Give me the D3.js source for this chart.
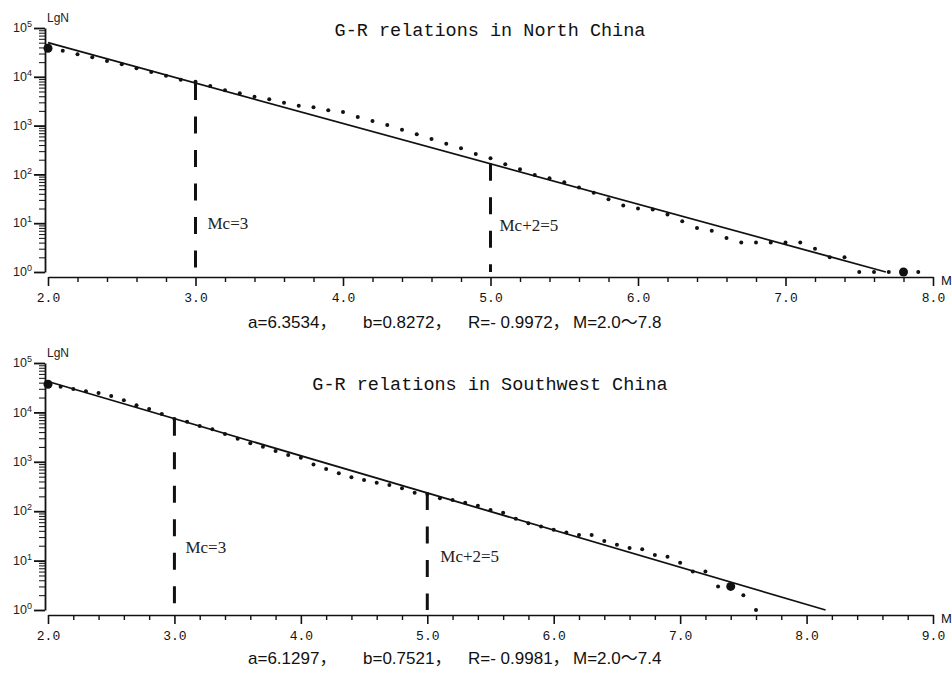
<!DOCTYPE html>
<html>
<head>
<meta charset="utf-8">
<script src="https://cdn.jsdelivr.net/npm/d3@7"></script>
<style>
body { margin: 0; background: #fff; }
svg { display: block; }
</style>
</head>
<body>
<div id="chart"></div>
<script>
// magnitude bins (M) and cumulative counts N(>=M)
const magsNorth = [2.0,2.1,2.2,2.3,2.4,2.5,2.6,2.7,2.8,2.9,3.0,3.1,3.2,3.3,3.4,3.5,3.6,3.7,3.8,3.9,
  4.0,4.1,4.2,4.3,4.4,4.5,4.6,4.7,4.8,4.9,5.0,5.1,5.2,5.3,5.4,5.5,5.6,5.7,5.8,5.9,
  6.0,6.1,6.2,6.3,6.4,6.5,6.6,6.7,6.8,6.9,7.0,7.1,7.2,7.3,7.4,7.5,7.6,7.7,7.8,7.9];
const countsNorth = [38400,34300,28900,25100,21100,18000,14900,12500,10500,8700,
  7900,6500,5300,4600,3900,3460,2940,2560,2370,2060,
  1900,1500,1240,1030,824,664,531,426,343,262,
  214,161,127,97,83,69,54,42,31,23,
  20,19,15,11,8,7,5,4,4,4,
  4,4,3,2,2,1,1,1,1,1];

const magsSouthwest = [2.0,2.1,2.2,2.3,2.4,2.5,2.6,2.7,2.8,2.9,3.0,3.1,3.2,3.3,3.4,3.5,3.6,3.7,3.8,3.9,
  4.0,4.1,4.2,4.3,4.4,4.5,4.6,4.7,4.8,4.9,5.0,5.1,5.2,5.3,5.4,5.5,5.6,5.7,5.8,5.9,
  6.0,6.1,6.2,6.3,6.4,6.5,6.6,6.7,6.8,6.9,7.0,7.1,7.2,7.3,7.4,7.5,7.6];
const countsSouthwest = [37100,33100,29800,26700,24700,21500,17600,13900,11700,9290,
  7350,6480,5310,4550,3650,2940,2370,2020,1660,1370,
  1210,881,715,585,486,428,378,339,291,237,
  223,182,169,149,129,106,93,70,57,49,
  42,37,33,33,25,21,18,17,13,12,
  9,6,6,3,3,2,1];

const panelTitles = ["G-R relations in North China", "G-R relations in Southwest China"];
const fitA = [6.3534, 6.1297];
const fitB = [0.8272, 0.7521];
const fitR = ["- 0.9972", "- 0.9981"];
const fitRange = [[2.0, 7.8], [2.0, 7.4]];
const mcValues = [3, 5];
const mcLabels = ["Mc=3", "Mc+2=5"];
const xDomains = [[2, 8], [2, 9]];
const xMajorTicks = [[2,3,4,5,6,7,8], [2,3,4,5,6,7,8,9]];
const yDecades = [1, 10, 100, 1000, 10000, 100000];

const width = 952, height = 673;

const svg = d3.select("#chart").append("svg")
    .attr("width", width)
    .attr("height", height)
    .attr("viewBox", [0, 0, width, height]);

// layout of each panel (pixels)
const panels = [
  { mags: magsNorth, counts: countsNorth, yTop: 28, yBottom: 272, axisY: 277, titleY: 36,
    captionY: 328, labelDy: [[12, 229], [9, 231]] },
  { mags: magsSouthwest, counts: countsSouthwest, yTop: 363, yBottom: 610, axisY: 615, titleY: 390,
    captionY: 664, labelDy: [[11, 553], [13, 562]] }
];
const captionX = [248, 363, 468, 573];

panels.forEach((p, i) => drawPanel(p, i));

function drawPanel(p, i) {
  const g = svg.append("g");
  const x = d3.scaleLinear().domain(xDomains[i]).range([48, 933]);
  const y = d3.scaleLog().domain([1, 1e5]).range([p.yBottom, p.yTop]);
  const axisX = 45;

  // x axis: minor ticks every 0.2, major every 1
  const minorX = d3.range(xDomains[i][0], xDomains[i][1] + 0.001, 0.2)
      .filter(v => Math.abs(v - Math.round(v)) > 0.01);
  g.append("g")
      .attr("transform", `translate(0,${p.axisY})`)
      .call(d3.axisBottom(x).tickValues(minorX).tickSize(5).tickSizeOuter(0).tickFormat(""))
      .call(s => s.select(".domain").remove())
      .call(s => s.selectAll("line").attr("stroke", "#111").attr("stroke-width", 1.4));
  g.append("g")
      .attr("transform", `translate(0,${p.axisY})`)
      .call(d3.axisBottom(x).tickValues(xMajorTicks[i]).tickSize(9).tickSizeOuter(0)
        .tickPadding(7).tickFormat(d3.format(".1f")))
      .call(s => s.selectAll("text")
        .attr("font-family", "'Liberation Mono', monospace")
        .attr("font-size", 13)
        .attr("fill", "#111"))
      .call(s => s.selectAll("line,path").attr("stroke", "#111").attr("stroke-width", 1.6));

  g.append("text")
      .attr("x", 941)
      .attr("y", p.axisY + 8)
      .attr("font-family", "'Liberation Sans', Arial, sans-serif")
      .attr("font-size", 13)
      .attr("fill", "#111")
      .text("M");

  // y axis: log scale with minor ticks
  const minorY = [];
  yDecades.slice(0, -1).forEach(d => d3.range(2, 10).forEach(k => minorY.push(d * k)));
  g.append("g")
      .attr("transform", `translate(${axisX},0)`)
      .call(d3.axisLeft(y).tickValues(minorY).tickSize(6).tickSizeOuter(0).tickFormat(""))
      .call(s => s.select(".domain").remove())
      .call(s => s.selectAll("line").attr("stroke", "#222").attr("stroke-width", 1.1));
  const yAxis = g.append("g")
      .attr("transform", `translate(${axisX},0)`)
      .call(d3.axisLeft(y).tickValues(yDecades).tickSize(11).tickSizeOuter(0).tickFormat(""));
  yAxis.selectAll("line,path").attr("stroke", "#111").attr("stroke-width", 1.8);
  yAxis.selectAll(".tick").append("text")
      .attr("x", -13)
      .attr("dy", "0.3em")
      .attr("text-anchor", "end")
      .attr("font-family", "'Liberation Sans', Arial, sans-serif")
      .attr("font-size", 12.5)
      .attr("fill", "#222")
      .each(function(d) {
        const t = d3.select(this);
        t.append("tspan").text("10");
        t.append("tspan").attr("dy", -5).attr("font-size", 9).text(Math.round(Math.log10(d)));
      });

  g.append("text")
      .attr("x", 47)
      .attr("y", p.yTop - 6)
      .attr("font-family", "'Liberation Sans', Arial, sans-serif")
      .attr("font-size", 12)
      .attr("fill", "#222")
      .text("LgN");

  // title
  g.append("text")
      .attr("x", 490)
      .attr("y", p.titleY)
      .attr("text-anchor", "middle")
      .attr("font-family", "'Liberation Mono', monospace")
      .attr("font-size", 18.5)
      .attr("fill", "#111")
      .text(panelTitles[i]);

  // fit line lgN = a - bM, drawn from M=2 down to N=1
  const a = fitA[i], b = fitB[i];
  const fitLine = [fitRange[i][0], a / b].map(m => [m, Math.pow(10, a - b * m)]);
  g.append("path")
      .datum(fitLine)
      .attr("fill", "none")
      .attr("stroke", "#111")
      .attr("stroke-width", 1.8)
      .attr("d", d3.line().x(d => x(d[0])).y(d => y(d[1])));

  // Mc dashed lines
  mcValues.forEach((m, j) => {
    g.append("line")
        .attr("x1", x(m)).attr("x2", x(m))
        .attr("y1", y(Math.pow(10, a - b * m))).attr("y2", p.yBottom)
        .attr("stroke", "#111")
        .attr("stroke-width", 3)
        .attr("stroke-dasharray", "17 16.5");
    g.append("text")
        .attr("x", x(m) + p.labelDy[j][0])
        .attr("y", p.labelDy[j][1])
        .attr("font-family", "'Liberation Serif', serif")
        .attr("font-size", 17)
        .attr("fill", "#222")
        .text(mcLabels[j]);
  });

  // data points
  const pts = p.mags.map((m, k) => ({ m: m, n: p.counts[k] }));
  g.append("g")
    .selectAll("circle")
    .data(pts)
    .join("circle")
      .attr("cx", d => x(d.m))
      .attr("cy", d => y(d.n))
      .attr("r", d => (Math.abs(d.m - fitRange[i][0]) < 0.01 || Math.abs(d.m - fitRange[i][1]) < 0.01) ? 4.5 : 2)
      .attr("fill", "#111");

  // caption, four parts
  const parts = [
    `a=${a.toFixed(4)}，`,
    `b=${b.toFixed(4)}，`,
    `R=${fitR[i]}，`,
    `M=${fitRange[i][0].toFixed(1)}～${fitRange[i][1].toFixed(1)}`
  ];
  g.selectAll(".caption")
    .data(parts)
    .join("text")
      .attr("class", "caption")
      .attr("x", (d, k) => captionX[k])
      .attr("y", p.captionY)
      .attr("font-family", "'Liberation Sans', Arial, 'Noto Sans CJK SC', sans-serif")
      .attr("font-size", 17)
      .attr("fill", "#111")
      .style("white-space", "pre")
      .text(d => d);
}
</script>
</body>
</html>
